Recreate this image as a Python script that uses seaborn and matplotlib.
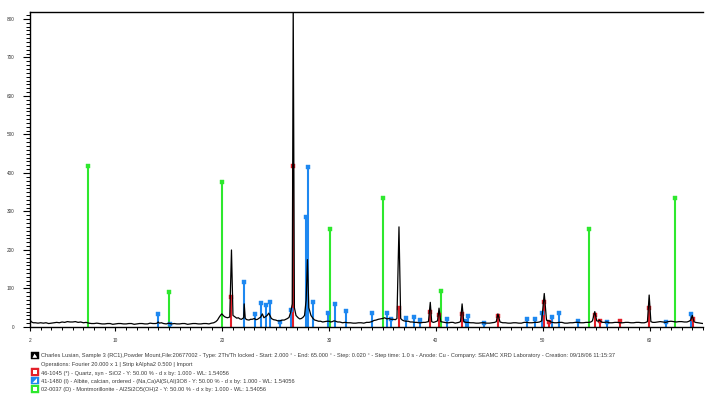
import matplotlib
matplotlib.use("Agg")
import matplotlib.pyplot as plt
from matplotlib.patches import Rectangle, Polygon
import numpy as np
import pandas as pd
import seaborn as sns

# ---------------- data ----------------
scan_2theta = [2.0, 2.15, 2.3, 2.5, 2.75, 3.0, 3.25, 3.5, 3.75, 4.0, 4.25, 4.5, 4.75, 5.0, 5.25, 5.5,
               5.75, 6.0, 6.25, 6.5, 6.75, 7.0, 7.25, 7.5, 7.75, 8.0, 8.25, 8.5, 8.75, 9.0, 9.25, 9.5,
               9.75, 10.0, 10.25, 10.5, 10.75, 11.0, 11.25, 11.5, 11.75, 12.0, 12.25, 12.5, 12.75,
               13.0, 13.25, 13.5, 13.75, 13.9, 14.0, 14.1, 14.3, 14.5, 14.75, 15.0, 15.25, 15.5, 15.75,
               16.0, 16.25, 16.5, 16.75, 17.0, 17.25, 17.5, 17.75, 18.0, 18.25, 18.5, 18.75, 19.0,
               19.2, 19.4, 19.55, 19.7, 19.85, 19.95, 20.1, 20.2, 20.35, 20.5, 20.7, 20.86,
               21.0, 21.2, 21.35, 21.5, 21.65, 21.8, 22.0, 22.05, 22.15, 22.3, 22.5, 22.65, 22.8, 23.0,
               23.15, 23.3, 23.45, 23.6, 23.75, 23.9, 24.05, 24.2, 24.35, 24.6, 24.8, 25.0, 25.2, 25.4,
               25.6, 25.8, 26.1, 26.25, 26.4, 26.55, 26.64, 26.75, 26.9, 27.1, 27.25, 27.4,
               27.55, 27.7, 27.85, 27.97, 28.1, 28.3, 28.5, 28.65, 28.8, 29.0, 29.2, 29.4, 29.6, 29.8,
               30.0, 30.15, 30.3, 30.45, 30.6, 30.8, 31.0, 31.25, 31.5, 31.75, 32.0, 32.25, 32.5,
               32.75, 33.0, 33.25, 33.5, 33.75, 34.0, 34.2, 34.4, 34.6, 34.8, 35.0, 35.2, 35.4, 35.6,
               35.8, 36.0, 36.2, 36.35, 36.54, 36.7, 36.85, 37.0, 37.2, 37.4, 37.6, 37.8, 38.0, 38.2,
               38.4, 38.6, 38.8, 39.0, 39.15, 39.3, 39.47, 39.6, 39.75, 39.9, 40.15, 40.29, 40.45,
               40.6, 40.8, 41.0, 41.2, 41.4, 41.6, 41.8, 42.0, 42.15, 42.3, 42.45, 42.6, 42.8, 43.0,
               43.25, 43.5, 43.75, 44.0, 44.25, 44.5, 44.75, 45.0, 45.25, 45.5, 45.65, 45.8, 46.0,
               46.25, 46.5, 46.75, 47.0, 47.25, 47.5, 47.75, 48.0, 48.25, 48.5, 48.75, 49.0, 49.25,
               49.5, 49.7, 49.9, 50.14, 50.35, 50.5, 50.6, 50.75, 50.9, 51.1, 51.3, 51.55, 51.8,
               52.05, 52.3, 52.55, 52.8, 53.05, 53.3, 53.55, 53.8, 54.05, 54.3, 54.5, 54.65, 54.87,
               55.05, 55.2, 55.3, 55.45, 55.6, 55.8, 56.0, 56.25, 56.5, 56.75, 57.0, 57.25, 57.5,
               57.75, 58.0, 58.25, 58.5, 58.75, 59.0, 59.25, 59.5, 59.65, 59.8, 59.96, 60.12, 60.3,
               60.5, 60.75, 61.0, 61.25, 61.5, 61.75, 62.0, 62.25, 62.5, 62.75, 63.0, 63.25, 63.5,
               63.7, 63.85, 64.0, 64.15, 64.3, 64.5, 64.75, 65.0]
scan_counts = [18, 13, 11, 11, 10, 11, 10, 11, 9, 10, 11, 12, 11, 13, 12, 14,
               13, 13, 14, 12, 13, 11, 12, 10, 9, 9, 10, 9, 8, 8, 9, 9,
               7, 8, 9, 9, 8, 8, 9, 9, 7, 8, 9, 9, 8,
               8, 10, 9, 9, 10, 13, 10, 11, 9, 8, 10, 8, 9, 8,
               8, 9, 9, 7, 8, 9, 9, 8, 8, 9, 9, 8, 10,
               11, 14, 18, 25, 31, 34, 30, 27, 25, 24, 26, 200,
               30, 26, 23, 24, 21, 20, 24, 60, 22, 19, 18, 20, 20, 22,
               19, 20, 23, 26, 34, 24, 27, 30, 36, 22, 19, 18, 16, 16,
               18, 18, 22, 25, 38, 60, 838, 50, 30, 24, 21, 22,
               25, 30, 70, 175, 50, 30, 22, 18, 17, 15, 15, 13, 14, 15,
               15, 13, 14, 16, 15, 13, 13, 11, 12, 11, 11, 10, 10,
               11, 11, 10, 12, 12, 14, 17, 18, 20, 21, 22, 24, 21, 22,
               20, 20, 19, 22, 260, 22, 18, 16, 15, 15, 13, 13, 12, 12,
               11, 11, 12, 12, 13, 14, 64, 14, 12, 13, 16, 49, 14,
               13, 12, 11, 11, 12, 12, 10, 11, 12, 14, 60, 14, 12, 12,
               11, 11, 10, 10, 11, 11, 10, 10, 11, 12, 14, 34, 13,
               11, 11, 10, 10, 11, 11, 10, 10, 12, 12, 11, 11, 12,
               12, 13, 16, 87, 18, 16, 16, 13, 12, 11, 11, 12, 12,
               10, 10, 11, 11, 12, 12, 11, 11, 12, 12, 13, 16, 40,
               16, 15, 18, 14, 12, 12, 13, 11, 11, 12, 12, 11, 11,
               12, 12, 11, 11, 12, 12, 11, 11, 12, 14, 83, 14, 12,
               12, 13, 14, 13, 12, 14, 15, 14, 13, 14, 14, 13, 13,
               15, 18, 30, 14, 12, 11, 10, 9]

quartz_2theta = [20.86, 26.64, 36.54, 39.47, 40.29, 42.45, 45.79, 50.14, 50.62, 54.87, 55.32, 57.24, 59.96, 64.03]
quartz_int = [78, 419, 49, 40, 30, 35, 28, 66, 13, 30, 15, 16, 50, 20]

albite_2theta = [13.95, 15.1, 22.05, 23.07, 23.6, 24.1, 24.45, 25.4, 26.45, 27.8, 27.98, 28.45,
                 29.9, 30.56, 31.55, 34.0, 35.45, 35.8, 37.18, 37.9, 38.5, 41.0, 42.8, 43.0, 44.5,
                 48.5, 49.3, 49.94, 50.9, 51.5, 53.3, 56.0, 61.5, 63.9]
albite_int = [34, 8, 118, 34, 63, 58, 66, 12, 44, 286, 416, 66,
              37, 61, 41, 37, 36, 20, 23, 25, 18, 20, 15, 29, 10,
              20, 20, 37, 25, 37, 15, 12, 12, 34]

mont_2theta = [7.43, 15.0, 19.98, 30.12, 35.08, 40.45, 54.3, 62.35]
mont_int = [419, 91, 377, 255, 336, 94, 255, 336]

x_major = [2, 10, 20, 30, 40, 50, 60]
y_major = [0, 100, 200, 300, 400, 500, 600, 700, 800]

legend_lines = [
    "Charles Lusian, Sample 3 (RC1),Powder Mount,File:20677002 - Type: 2Th/Th locked - Start: 2.000 \u00b0 - End: 65.000 \u00b0 - Step: 0.020 \u00b0 - Step time: 1.0 s - Anode: Cu - Company: SEAMC XRD Laboratory - Creation: 09/18/06 11:15:37",
    "Operations: Fourier 20.000 x 1 | Strip kAlpha2 0.500 | Import",
    "46-1045 (*) - Quartz, syn - SiO2 - Y: 50.00 % - d x by: 1.000 - WL: 1.54056",
    "41-1480 (I) - Albite, calcian, ordered - (Na,Ca)Al(Si,Al)3O8 - Y: 50.00 % - d x by: 1.000 - WL: 1.54056",
    "02-0037 (D) - Montmorillonite - Al2Si2O5(OH)2 - Y: 50.00 % - d x by: 1.000 - WL: 1.54056",
]

# ---------------- styling ----------------
sns.set_theme(style="ticks")
plt.rcParams['font.family'] = ['Liberation Sans', 'DejaVu Sans']

W, H = 707, 404
fig = plt.figure(figsize=(W / 100, H / 100), dpi=100)
fig.patch.set_facecolor("white")

def fx(px):
    return px / W

def fy(py):
    return 1 - py / H

ax = fig.add_axes([fx(30), fy(327), fx(703) - fx(30), fy(12) - fy(327)])
ax.set_facecolor("white")

RED = "#e3202a"
BLUE = "#1e88f0"
GREEN = "#2ee82e"

# sticks
for xs, hs, col in [(mont_2theta, mont_int, GREEN), (albite_2theta, albite_int, BLUE),
                    (quartz_2theta, quartz_int, RED)]:
    ax.vlines(xs, 0, hs, colors=col, lw=1.5, zorder=2)
    sns.scatterplot(x=xs, y=hs, marker="s", s=5, color=col, edgecolor=col, linewidth=0.3,
                    ax=ax, zorder=3, legend=False)

# scan
scan = pd.DataFrame({"two_theta": scan_2theta, "counts": scan_counts})
sns.lineplot(data=scan, x="two_theta", y="counts", color="black", lw=0.9,
             sort=False, estimator=None, ax=ax, zorder=4)

ax.set_xlim(2, 65)
ax.set_ylim(0, 818)
ax.set_xlabel("")
ax.set_ylabel("")
ax.set_xticks(x_major)
ax.set_xticklabels([str(v) for v in x_major])
ax.set_xticks(np.arange(2, 66, 1), minor=True)
ax.set_yticks(y_major)
ax.set_yticklabels([str(v) for v in y_major])
ax.set_yticks(np.arange(0, 811, 10), minor=True)

ax.tick_params(axis="x", which="major", direction="out", length=3.2, width=0.8, color="black",
               labelsize=3.4, pad=5, bottom=True, top=False, labelcolor="#333333")
ax.tick_params(axis="x", which="minor", direction="out", length=2.2, width=0.7, color="black",
               bottom=True, top=False)
ax.tick_params(axis="y", which="major", direction="out", length=5, width=0.8, color="black",
               labelsize=3.4, pad=6, left=True, right=False, labelcolor="#333333")
ax.tick_params(axis="y", which="minor", direction="out", length=3, width=0.7, color="black",
               left=True, right=False)

for side in ["left", "top", "bottom"]:
    ax.spines[side].set_visible(True)
    ax.spines[side].set_color("black")
    ax.spines[side].set_linewidth(1.0)
ax.spines["right"].set_visible(False)
ax.grid(False)

# ---------------- legend block ----------------
line_y = [356, 364.5, 373, 381.5, 390]
for txt, yy in zip(legend_lines, line_y):
    fig.text(fx(41), fy(yy), txt, fontsize=4.1, color="#3a3a3a", va="center", ha="left")

def icon(yc, col, inner="rect"):
    x0, x1 = 31, 38.5
    y0, y1 = yc - 3.8, yc + 3.8
    fig.patches.append(Rectangle((fx(x0), fy(y1)), fx(x1) - fx(x0), fy(y0) - fy(y1),
                                 transform=fig.transFigure, facecolor=col, edgecolor=col, lw=0.3))
    if inner == "rect":
        fig.patches.append(Rectangle((fx(x0 + 2), fy(y1 - 2)), fx(x1 - 2) - fx(x0 + 2), fy(y0 + 2) - fy(y1 - 2),
                                     transform=fig.transFigure, facecolor="white", edgecolor="none"))
    elif inner == "tri":
        fig.patches.append(Polygon([(fx(x0 + 1.5), fy(y1 - 1.5)), (fx(x1 - 1.5), fy(y0 + 1.5)),
                                    (fx(x1 - 1.5), fy(y1 - 1.5))],
                                   transform=fig.transFigure, facecolor="white", edgecolor="none"))
    elif inner == "scan":
        fig.patches.append(Polygon([(fx(x0 + 1.5), fy(y1 - 1.5)), (fx(x0 + 3.5), fy(y0 + 2)),
                                    (fx(x1 - 2), fy(y1 - 3)), (fx(x1 - 1.5), fy(y1 - 1.5))],
                                   transform=fig.transFigure, facecolor="white", edgecolor="none"))

icon(355.5, "black", "scan")
icon(372, RED, "rect")
icon(380.5, BLUE, "tri")
icon(389, GREEN, "rect")

fig.savefig("out.png", dpi=100, facecolor="white")
